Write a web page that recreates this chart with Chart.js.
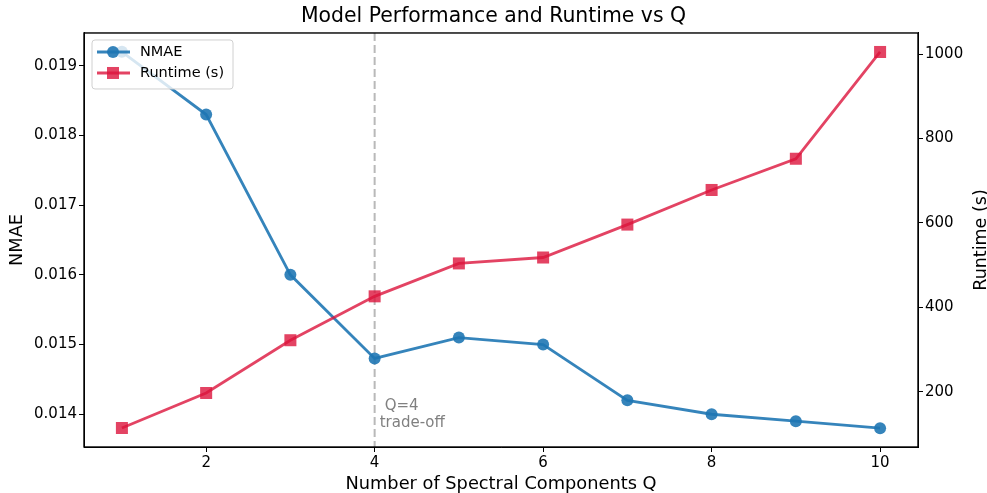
<!DOCTYPE html>
<html>
<head>
<meta charset="utf-8">
<script src="https://cdn.jsdelivr.net/npm/chart.js@4.4.0/dist/chart.umd.min.js"></script>
<style>
  html, body { margin: 0; padding: 0; background: #fff; }
  #wrap { width: 987px; height: 493px; }
</style>
</head>
<body>
<div id="wrap"><canvas id="perfChart" width="987" height="493"></canvas></div>
<script>
const qValues = [1, 2, 3, 4, 5, 6, 7, 8, 9, 10];
const nmae = [0.0192, 0.0183, 0.0160, 0.0148, 0.0151, 0.0150, 0.0142, 0.0140, 0.0139, 0.0138];
const runtime = [114, 197, 322, 426, 504, 518, 596, 678, 752, 1005];
const xTicks = [2, 4, 6, 8, 10];
const nmaeTicks = [0.014, 0.015, 0.016, 0.017, 0.018, 0.019];
const runtimeTicks = [200, 400, 600, 800, 1000];
const tradeOffQ = 4;

const FONT = "'DejaVu Sans', sans-serif";
const blue = 'rgba(31, 119, 180, 0.9)';
const red = 'rgba(220, 20, 60, 0.8)';

function fixTicks(values) {
    return function (scale) {
        scale.ticks = values.map(v => ({ value: v }));
    };
}

const frameAndExtras = {
    id: 'frameAndExtras',
    beforeDatasetsDraw(chart) {
        const ctx = chart.ctx;
        const a = chart.chartArea;
        const x = chart.scales.x.getPixelForValue(tradeOffQ);
        ctx.save();
        ctx.strokeStyle = 'rgba(128, 128, 128, 0.55)';
        ctx.lineWidth = 2;
        ctx.setLineDash([8, 4]);
        ctx.beginPath();
        ctx.moveTo(x, a.top);
        ctx.lineTo(x, a.bottom);
        ctx.stroke();
        ctx.restore();
    },
    afterDraw(chart) {
        const ctx = chart.ctx;
        const a = chart.chartArea;
        ctx.save();
        // frame
        ctx.strokeStyle = '#000';
        ctx.lineWidth = 1.4;
        ctx.strokeRect(a.left, a.top, a.right - a.left, a.bottom - a.top);

        // right axis title, reading bottom to top like matplotlib
        ctx.save();
        ctx.translate(981, (a.top + a.bottom) / 2);
        ctx.rotate(-Math.PI / 2);
        ctx.fillStyle = '#000';
        ctx.font = '17.5px ' + FONT;
        ctx.textAlign = 'center';
        ctx.textBaseline = 'middle';
        ctx.fillText('Runtime (s)', 0, 0);
        ctx.restore();

        // annotation
        const x = chart.scales.x.getPixelForValue(tradeOffQ);
        ctx.fillStyle = 'gray';
        ctx.font = '15px ' + FONT;
        ctx.textBaseline = 'middle';
        ctx.textAlign = 'left';
        ctx.fillText('Q=4', x + 10, 406);
        ctx.fillText('trade-off', x + 5, 423);

        // legend
        const lx = a.left + 8, ly = a.top + 7, lw = 141, lh = 49;
        ctx.fillStyle = 'rgba(255,255,255,0.8)';
        ctx.strokeStyle = '#d0d0d0';
        ctx.lineWidth = 1;
        ctx.beginPath();
        ctx.roundRect(lx, ly, lw, lh, 3);
        ctx.fill();
        ctx.stroke();

        const items = [
            { label: 'NMAE', color: blue, shape: 'circle' },
            { label: 'Runtime (s)', color: red, shape: 'square' }
        ];
        items.forEach((it, i) => {
            const cy = ly + 12 + i * 21;
            ctx.strokeStyle = it.color;
            ctx.fillStyle = it.color;
            ctx.lineWidth = 2.8;
            ctx.beginPath();
            ctx.moveTo(lx + 5, cy);
            ctx.lineTo(lx + 38, cy);
            ctx.stroke();
            if (it.shape === 'circle') {
                ctx.beginPath();
                ctx.arc(lx + 21, cy, 6, 0, Math.PI * 2);
                ctx.fill();
            } else {
                ctx.fillRect(lx + 15, cy - 6, 12, 12);
            }
            ctx.fillStyle = '#000';
            ctx.font = '14.5px ' + FONT;
            ctx.textAlign = 'left';
            ctx.textBaseline = 'middle';
            ctx.fillText(it.label, lx + 48, cy);
        });
        ctx.restore();
    }
};

const tickGrid = {
    display: true,
    drawOnChartArea: false,
    drawTicks: true,
    tickLength: 5,
    color: '#000',
    lineWidth: 1
};

const ctx = document.getElementById('perfChart').getContext('2d');
const perfChart = new Chart(ctx, {
    type: 'line',
    data: {
        datasets: [
            {
                label: 'NMAE',
                data: qValues.map((q, i) => ({ x: q, y: nmae[i] })),
                borderColor: blue,
                backgroundColor: blue,
                borderWidth: 2.8,
                pointStyle: 'circle',
                pointRadius: 6,
                pointBorderWidth: 0,
                yAxisID: 'y',
                order: 1
            },
            {
                label: 'Runtime (s)',
                data: qValues.map((q, i) => ({ x: q, y: runtime[i] })),
                borderColor: red,
                backgroundColor: red,
                borderWidth: 2.8,
                pointStyle: 'rect',
                pointRadius: 8.5,
                pointBorderWidth: 0,
                yAxisID: 'y1',
                order: 0
            }
        ]
    },
    options: {
        responsive: false,
        animation: false,
        layout: { padding: 0 },
        plugins: {
            legend: { display: false },
            tooltip: { enabled: false },
            title: {
                display: true,
                text: 'Model Performance and Runtime vs Q',
                color: '#000',
                font: { family: FONT, size: 20.4, weight: 'normal', lineHeight: 1.2 },
                padding: { top: 4, bottom: 4.5 }
            }
        },
        scales: {
            x: {
                type: 'linear',
                min: 0.55,
                max: 10.45,
                afterBuildTicks: fixTicks(xTicks),
                afterFit(scale) { scale.height = 46; },
                grid: tickGrid,
                border: { display: true, color: '#000' },
                ticks: {
                    color: '#000',
                    font: { family: FONT, size: 15 },
                    padding: 2,
                    maxRotation: 0
                },
                title: {
                    display: true,
                    text: 'Number of Spectral Components Q',
                    color: '#000',
                    font: { family: FONT, size: 17.8, lineHeight: 1 },
                    padding: { top: 4, bottom: 0 }
                }
            },
            y: {
                type: 'linear',
                position: 'left',
                min: 0.01353,
                max: 0.01947,
                afterBuildTicks: fixTicks(nmaeTicks),
                afterFit(scale) { scale.width = 84; },
                grid: tickGrid,
                border: { display: true, color: '#000' },
                ticks: {
                    color: '#000',
                    font: { family: FONT, size: 15 },
                    padding: 2,
                    callback: v => v.toFixed(3)
                },
                title: {
                    display: true,
                    text: 'NMAE',
                    color: '#000',
                    font: { family: FONT, size: 17.8, lineHeight: 1 },
                    padding: { top: 8, bottom: 0 }
                }
            },
            y1: {
                type: 'linear',
                position: 'right',
                min: 69,
                max: 1050,
                afterBuildTicks: fixTicks(runtimeTicks),
                afterFit(scale) { scale.width = 69; },
                grid: tickGrid,
                border: { display: true, color: '#000' },
                ticks: {
                    color: '#000',
                    font: { family: FONT, size: 15 },
                    padding: 2,
                    callback: v => String(v)
                },
                title: { display: false }
            }
        }
    },
    plugins: [frameAndExtras]
});
</script>
</body>
</html>
